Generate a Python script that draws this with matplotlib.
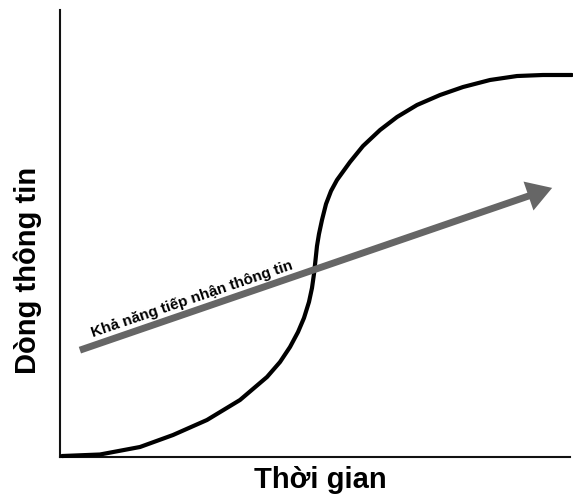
import matplotlib
matplotlib.use("Agg")
import matplotlib.pyplot as plt

# S-curve of information flow over time (0..100 arbitrary units)
time_vals = [0.39, 7.84, 15.69, 22.16, 28.82, 35.29, 40.59, 43.14, 45.10,
             46.67, 47.84, 48.82, 49.41, 49.80, 50.10, 50.39, 50.78, 51.37,
             52.16, 53.14, 54.31, 56.86, 59.41, 62.75, 66.08, 70.00, 74.51,
             79.02, 84.31, 89.61, 94.71, 100.39]
info_flow = [0.22, 0.56, 2.24, 4.92, 8.28, 12.75, 17.90, 21.25, 24.61,
             27.96, 31.10, 34.68, 37.81, 40.94, 44.07, 47.20, 49.89, 53.02,
             56.60, 59.51, 61.97, 65.99, 69.57, 73.15, 76.06, 78.75, 80.98,
             82.77, 84.34, 85.23, 85.46, 85.46]

# capacity to absorb information (straight arrow)
capacity_start = (3.9, 23.9)
capacity_end = (96.5, 60.2)

x_label = "Thời gian"
y_label = "Dòng thông tin"
arrow_label = "Khả năng tiếp nhận thông tin"

plt.rcParams['font.family'] = ['Liberation Sans', 'DejaVu Sans']

fig = plt.figure(figsize=(5.73, 4.97), dpi=100)
ax = fig.add_axes([60 / 573, 40 / 497, 510 / 573, 447 / 497])
ax.set_xlim(0, 100)
ax.set_ylim(0, 100)

for s in ("top", "right"):
    ax.spines[s].set_visible(False)
for s in ("left", "bottom"):
    ax.spines[s].set_linewidth(1.5)
    ax.spines[s].set_color("#111111")
ax.set_xticks([])
ax.set_yticks([])

ax.plot(time_vals, info_flow, color="black", lw=3, clip_on=False,
        solid_capstyle="round", solid_joinstyle="round", zorder=3)

ax.annotate("", xy=capacity_end, xytext=capacity_start,
            arrowprops=dict(arrowstyle="simple,head_length=0.9,head_width=1.1,tail_width=0.25",
                            mutation_scale=20, color="#666666", lw=0,
                            shrinkA=0, shrinkB=0), zorder=4)

ax.text(6.5, 26.8, arrow_label, rotation=18.8, rotation_mode="anchor",
        ha="left", va="baseline", fontsize=11, fontweight="bold", color="black")

ax.set_xlabel(x_label, fontsize=21, fontweight="bold")
ax.xaxis.set_label_coords(0.51, -0.02)
ax.set_ylabel(y_label, fontsize=21, fontweight="bold")
ax.yaxis.set_label_coords(-0.035, 0.418)

fig.savefig("out.png", dpi=100, facecolor="white")
